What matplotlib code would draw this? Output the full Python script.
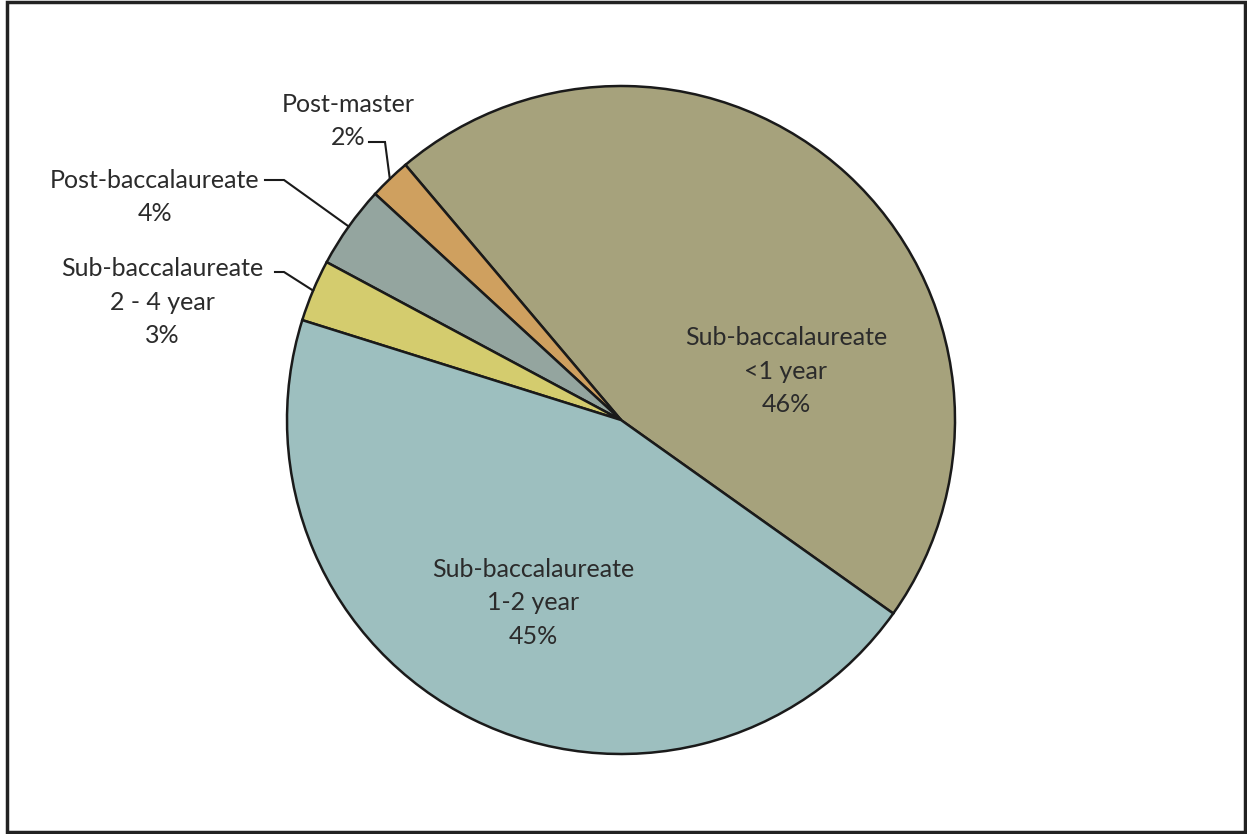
"""Pie chart of program lengths, redrawn with matplotlib."""

import numpy as np
import matplotlib
matplotlib.use("Agg")
import matplotlib.pyplot as plt
from matplotlib.patches import Rectangle

# slices, counterclockwise from the lower right boundary
LABELS = ["Sub-baccalaureate\n<1 year", "Post-master", "Post-baccalaureate",
          "Sub-baccalaureate\n2 - 4 year", "Sub-baccalaureate\n1-2 year"]
SHARES = [46, 2, 4, 3, 45]
COLORS = ["#a6a27c", "#cfa05f", "#94a59f", "#d4cc6e", "#9dbfbf"]

W, H = 1247, 834
CX, CY, R = 621, H - 420, 334
START = -35.4

plt.rcParams["font.family"] = ["Lato", "DejaVu Sans"]
TXT = "#2b2b2b"
FS = 18
LS = 1.55

fig = plt.figure(figsize=(W / 100, H / 100), dpi=100)
ax = fig.add_axes([0, 0, 1, 1])

wedges, _ = ax.pie(SHARES, colors=COLORS, startangle=START, center=(CX, CY),
                   radius=R, counterclock=True, frame=True,
                   wedgeprops=dict(edgecolor="#1a1a1a", linewidth=1.8))
ax.set_xlim(0, W)
ax.set_ylim(0, H)
ax.set_aspect("equal")
ax.axis("off")


def pct(i):
    return f"{SHARES[i]}%"


# labels inside the two big slices
ax.text(786, H - 371, f"{LABELS[0]}\n{pct(0)}", ha="center", va="center",
        fontsize=FS, color=TXT, linespacing=LS)
ax.text(533, H - 603, f"{LABELS[4]}\n{pct(4)}", ha="center", va="center",
        fontsize=FS, color=TXT, linespacing=LS)

# outside labels with leader lines: (text center, leader start, elbow)
outside = [
    (1, (348, 121), (369, 142), (385, 142)),
    (2, (155, 197), (265, 180), (284, 180)),
    (3, (162, 302), (275, 272), (284, 272)),
]
for i, (tx, ty), (sx, sy), (ex, ey) in outside:
    ax.text(tx, H - ty, f"{LABELS[i]}\n{pct(i)}", ha="center", va="center",
            fontsize=FS, color=TXT, linespacing=LS)
    w = wedges[i]
    mid = np.deg2rad((w.theta1 + w.theta2) / 2)
    px, py = CX + R * np.cos(mid), CY + R * np.sin(mid)
    ax.plot([sx, ex, px], [H - sy, H - ey, py], color="#1a1a1a", lw=1.5,
            solid_joinstyle="miter")

# outer frame
ax.add_patch(Rectangle((7, 2), W - 9, H - 4, fill=False, edgecolor="#222222",
                       linewidth=2.5))

fig.savefig("out.png", dpi=100)
